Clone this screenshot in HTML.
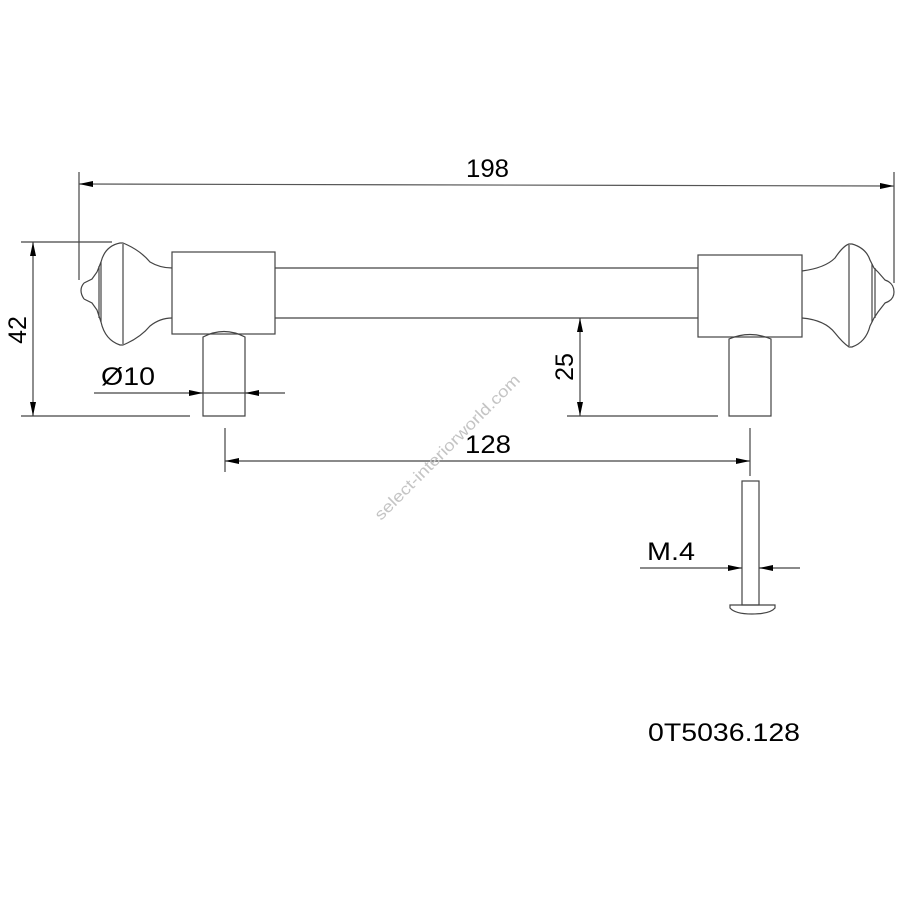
<!DOCTYPE html>
<html><head><meta charset="utf-8"><style>html,body{margin:0;padding:0;background:#fff}svg{display:block}</style></head><body>
<svg width="900" height="900" viewBox="0 0 900 900" xmlns="http://www.w3.org/2000/svg">
<defs>
<marker id="a" viewBox="0 0 14 6" refX="14" refY="3" markerWidth="14" markerHeight="6" markerUnits="userSpaceOnUse" orient="auto-start-reverse"><path d="M0,0 L14,3 L0,6 z" fill="#000"/></marker>
</defs>
<g fill="none" stroke="#444" stroke-width="1.2">
<!-- 198 -->
<line x1="79" y1="172" x2="79" y2="280"/>
<line x1="894" y1="172" x2="894" y2="283"/>
<line x1="79" y1="184" x2="894" y2="186" marker-start="url(#a)" marker-end="url(#a)" stroke="#555"/>
<!-- 42 -->
<line x1="21" y1="242" x2="112" y2="242"/>
<line x1="21" y1="416" x2="190" y2="416"/>
<line x1="33" y1="242" x2="33" y2="416" marker-start="url(#a)" marker-end="url(#a)"/>
<!-- left knob -->
<path d="M84,283 Q78,290 84,299 M84,283 L92,279 L97,272 L101,262 Q105,246 120,243 L123,243 Q140,250 150,262 Q160,268 172,268"/>
<path d="M84,299 L92,303 L97,310 L101,322 Q105,340 120,345 L123,345 Q140,338 150,326 Q160,318 172,318"/>
<line x1="123" y1="244" x2="123" y2="344"/>
<line x1="99" y1="266" x2="99" y2="318"/>
<line x1="101" y1="262" x2="101" y2="322"/>
<!-- left block -->
<rect x="172" y="252" width="103" height="82"/>
<path d="M203,416 L203,337 Q224,326 245,337 L245,416 Z"/>
<!-- bar -->
<line x1="275" y1="268" x2="698" y2="268"/>
<line x1="275" y1="318" x2="698" y2="318"/>
<!-- right block -->
<rect x="698" y="255" width="104" height="82"/>
<path d="M729,416 L729,339 Q750,330 771,339 L771,416 Z"/>
<!-- right knob -->
<path d="M802,271 Q825,268 835,258 Q843,246 849,244 L852,244 Q866,248 870,260 L874,268 L878,272 L885,280 Q894,283 894,292 Q894,300 885,303 L878,312 L874,318 L870,326 Q866,342 852,347 L849,347 Q843,343 835,333 Q825,320 802,318"/>
<line x1="849" y1="245" x2="849" y2="346"/>
<line x1="872" y1="264" x2="872" y2="322"/>
<line x1="875" y1="268" x2="875" y2="318"/>
<!-- Ø10 -->
<line x1="94" y1="393" x2="203" y2="393" marker-end="url(#a)"/>
<line x1="285" y1="393" x2="245" y2="393" marker-end="url(#a)"/>
<line x1="203" y1="393" x2="245" y2="393"/>
<!-- 25 -->
<line x1="567" y1="416" x2="718" y2="416"/>
<line x1="580" y1="318" x2="580" y2="416" marker-start="url(#a)" marker-end="url(#a)"/>
<!-- 128 -->
<line x1="225" y1="428" x2="225" y2="472"/>
<line x1="750" y1="428" x2="750" y2="476"/>
<line x1="225" y1="461" x2="750" y2="461" marker-start="url(#a)" marker-end="url(#a)"/>
<!-- screw -->
<rect x="742" y="481" width="17" height="124"/>
<path d="M730,605 L775,605 L775,608 Q770,614 752,614 Q735,614 730,608 Z"/>
<line x1="640" y1="568" x2="742" y2="568" marker-end="url(#a)"/>
<line x1="800" y1="568" x2="759" y2="568" marker-end="url(#a)"/>
</g>
<g font-family="Liberation Sans, sans-serif" fill="#000" font-size="25">
<text x="466" y="177" textLength="43" lengthAdjust="spacingAndGlyphs">198</text>
<text transform="translate(26,330) rotate(-90)" text-anchor="middle">42</text>
<text transform="translate(573,367) rotate(-90)" text-anchor="middle">25</text>
<text x="101" y="385" textLength="54" lengthAdjust="spacingAndGlyphs">Ø10</text>
<text x="465" y="453" textLength="46" lengthAdjust="spacingAndGlyphs">128</text>
<text x="647" y="560" textLength="48" lengthAdjust="spacingAndGlyphs">M.4</text>
<text x="648" y="741" textLength="152" lengthAdjust="spacingAndGlyphs">0T5036.128</text>
</g>
<text transform="translate(451,451) rotate(-45)" text-anchor="middle" font-family="Liberation Sans, sans-serif" font-size="16" fill="#c4c4c4" textLength="198" lengthAdjust="spacingAndGlyphs">select-interiorworld.com</text>
</svg>
</body></html>
